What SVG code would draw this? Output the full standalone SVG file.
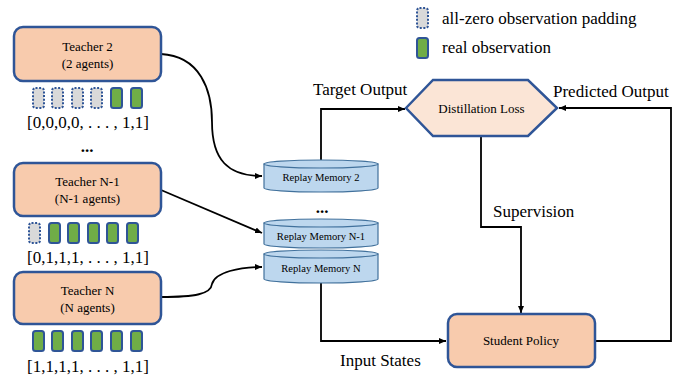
<svg xmlns="http://www.w3.org/2000/svg" width="694" height="380" viewBox="0 0 694 380">
<style>
text{font-family:'Liberation Serif','Times New Roman','DejaVu Serif',serif;fill:#000}
.node{fill:#f8cbad;stroke:#2f5597;stroke-width:2.5}
.mem{fill:#bdd7ee;stroke:#41719c;stroke-width:1.2}
.real{fill:#70ad47;stroke:#2f5597;stroke-width:2}
.pad{fill:#d9d9d9;stroke:#2f5597;stroke-width:2;stroke-dasharray:2 1.6}
.c{fill:none;stroke:#000;stroke-width:1.8}
.s13{font-size:13px}
.s11{font-size:10.6px}
.s17{font-size:17px}
</style>
<defs>
<marker id="ah" markerWidth="8" markerHeight="8" refX="7" refY="4" orient="auto" markerUnits="userSpaceOnUse">
<path d="M0,1 L7,4 L0,7 Z" fill="#000"/>
</marker>
<g id="obsPad"><rect class="pad" x="0" y="0" width="11" height="20" rx="2.5"/></g>
<g id="obsReal"><rect class="real" x="0" y="0" width="11" height="20" rx="2.5"/></g>
</defs>
<rect width="694" height="380" fill="#fff"/>

<g id="legend">
<use href="#obsPad" x="417" y="8"/>
<text class="s17" x="442" y="24">all-zero observation padding</text>
<use href="#obsReal" x="417" y="38"/>
<text class="s17" x="442" y="53">real observation</text>
</g>

<g id="connectors">
<path class="c" d="M161,54 C200,56 212,90 212,122 C212,160 228,176 262,176" marker-end="url(#ah)"/>
<path class="c" d="M161,190 L262,233" marker-end="url(#ah)"/>
<path class="c" d="M161,297 C195,297 211,294 212,284 C215,272 240,267 262,267" marker-end="url(#ah)"/>
<path class="c" d="M321,160 L321,109 L405,109" marker-end="url(#ah)"/>
<path class="c" d="M321,283 L321,341 L446,341" marker-end="url(#ah)"/>
<path class="c" d="M481,137 L481,227 L521,227 L521,313" marker-end="url(#ah)"/>
<path class="c" d="M595,341 L671,341 L671,108 L559,108" marker-end="url(#ah)"/>
</g>

<g id="teacher2">
<rect class="node" x="14" y="27" width="147" height="54" rx="9"/>
<text class="s13" x="87.5" y="51" text-anchor="middle">Teacher 2</text>
<text class="s13" x="87.5" y="68" text-anchor="middle">(2 agents)</text>
<use href="#obsPad" x="33" y="88"/><use href="#obsPad" x="52" y="88"/><use href="#obsPad" x="72" y="88"/><use href="#obsPad" x="91" y="88"/><use href="#obsReal" x="111" y="88"/><use href="#obsReal" x="131" y="88"/>
<text class="s17" x="88" y="128" text-anchor="middle">[0,0,0,0, . . . , 1,1]</text>
</g>

<text class="s17" x="87" y="152" text-anchor="middle" font-weight="bold">...</text>

<g id="teacherN-1">
<rect class="node" x="14" y="163" width="147" height="53" rx="9"/>
<text class="s13" x="87.5" y="186" text-anchor="middle">Teacher N-1</text>
<text class="s13" x="87.5" y="203" text-anchor="middle">(N-1 agents)</text>
<use href="#obsPad" x="29" y="223"/><use href="#obsReal" x="49" y="223"/><use href="#obsReal" x="68" y="223"/><use href="#obsReal" x="88" y="223"/><use href="#obsReal" x="107" y="223"/><use href="#obsReal" x="127" y="223"/>
<text class="s17" x="88" y="263" text-anchor="middle">[0,1,1,1, . . . , 1,1]</text>
</g>

<g id="teacherN">
<rect class="node" x="14" y="272" width="147" height="52" rx="9"/>
<text class="s13" x="87.5" y="295" text-anchor="middle">Teacher N</text>
<text class="s13" x="87.5" y="312" text-anchor="middle">(N agents)</text>
<use href="#obsReal" x="33" y="331"/><use href="#obsReal" x="52" y="331"/><use href="#obsReal" x="72" y="331"/><use href="#obsReal" x="91" y="331"/><use href="#obsReal" x="111" y="331"/><use href="#obsReal" x="131" y="331"/>
<text class="s17" x="88" y="372" text-anchor="middle">[1,1,1,1, . . . , 1,1]</text>
</g>

<g id="memory2">
<path class="mem" d="M264,164 L264,188 A57,4 0 0 0 378,188 L378,164 Z"/>
<ellipse class="mem" cx="321" cy="164" rx="57" ry="4"/>
<text class="s11" x="321" y="181" text-anchor="middle">Replay Memory 2</text>
</g>

<text class="s17" x="322" y="213" text-anchor="middle" font-weight="bold">...</text>

<g id="memoryN-1">
<path class="mem" d="M264,223 L264,244 A57,4 0 0 0 378,244 L378,223 Z"/>
<ellipse class="mem" cx="321" cy="223" rx="57" ry="4"/>
<text class="s11" x="321" y="240" text-anchor="middle">Replay Memory N-1</text>
</g>

<g id="memoryN">
<path class="mem" d="M264,254 L264,279 A57,4 0 0 0 378,279 L378,254 Z"/>
<ellipse class="mem" cx="321" cy="254" rx="57" ry="4"/>
<text class="s11" x="321" y="272" text-anchor="middle">Replay Memory N</text>
</g>

<g id="distillation">
<polygon points="406,108 433,80 528,80 557,108 528,136 433,136" fill="#fbe5d6" stroke="#2f5597" stroke-width="2.5"/>
<text class="s13" x="481.5" y="113" text-anchor="middle">Distillation Loss</text>
</g>

<g id="student">
<rect class="node" x="448" y="314" width="147" height="53" rx="9"/>
<text class="s13" x="521" y="345" text-anchor="middle">Student Policy</text>
</g>

<g id="labels">
<text class="s17" x="313" y="95">Target Output</text>
<text class="s17" x="553" y="97">Predicted Output</text>
<text class="s17" x="493" y="217">Supervision</text>
<text class="s17" x="340" y="366">Input States</text>
</g>
</svg>
